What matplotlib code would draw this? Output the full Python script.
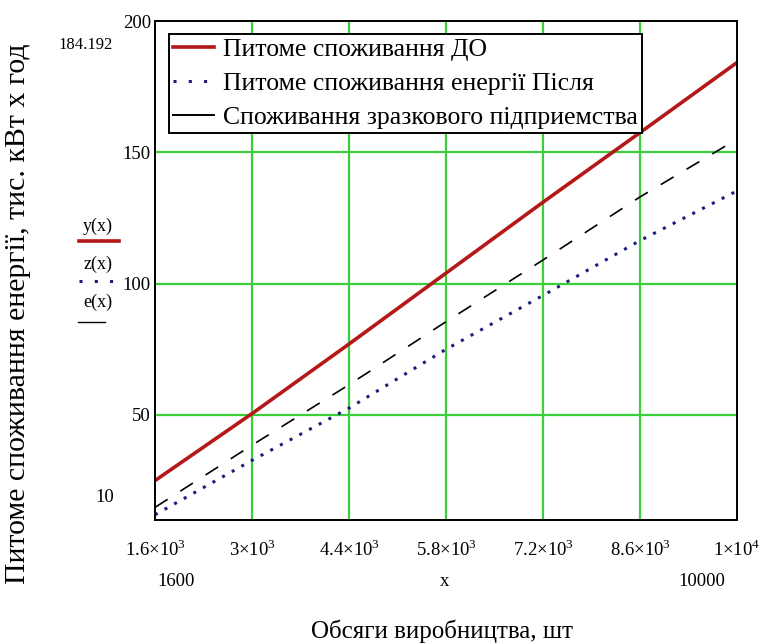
import matplotlib
matplotlib.use("Agg")
import matplotlib.pyplot as plt
from matplotlib.lines import Line2D

plt.rcParams['font.family'] = ['Liberation Serif', 'DejaVu Serif']
plt.rcParams['mathtext.fontset'] = 'custom'
plt.rcParams['mathtext.rm'] = 'Liberation Serif'

# Data
x_vals = [1600, 3000, 4400, 5800, 7200, 8600, 10000]
y_before = [25.0, 50.5, 77.0, 104.0, 131.0, 157.5, 184.192]
z_after = [12.0, 32.7, 52.6, 75.0, 95.5, 116.4, 135.3]
e_ref = [14.8, 38.5, 61.5, 85.5, 109.0, 133.0, 155.0]
x_ticks = [1600, 3000, 4400, 5800, 7200, 8600, 10000]
x_tick_labels = [r"1.6$\times$10$^{3}$", r"3$\times$10$^{3}$", r"4.4$\times$10$^{3}$",
                 r"5.8$\times$10$^{3}$", r"7.2$\times$10$^{3}$", r"8.6$\times$10$^{3}$",
                 r"1$\times$10$^{4}$"]
y_ticks = [50, 100, 150, 200]
y_tick_labels = ["50", "100", "150", "200"]
legend_labels = ["Питоме споживання ДО", "Питоме споживання енергії Після",
                 "Споживання зразкового підприемства"]

W, H = 763, 644
fig = plt.figure(figsize=(W / 100, H / 100), dpi=100)
L, R, T, B = 155, 737, 21, 520
ax = fig.add_axes([L / W, 1 - B / H, (R - L) / W, (B - T) / H])

red = "#b51818"
blue = "#1c1c7a"

ax.plot(x_vals, y_before, color=red, lw=2.6, solid_capstyle='butt')
ax.plot(x_vals, z_after, color=blue, lw=2.2, linestyle=(0, (1, 2.6)))
ax.plot(x_vals, e_ref, color="black", lw=1.2, linestyle=(0, (9, 9)))

ax.set_xlim(1600, 10000)
ax.set_ylim(10, 200)

grid_c = "#3ccf3c"
for gx in x_ticks[1:-1]:
    ax.axvline(gx, color=grid_c, lw=1.6, zorder=0)
for gy in y_ticks[:-1]:
    ax.axhline(gy, color=grid_c, lw=1.6, zorder=0)

ax.set_xticks(x_ticks)
ax.set_xticklabels(x_tick_labels, fontsize=13.5)
ax.set_yticks(y_ticks)
ax.set_yticklabels(y_tick_labels, fontsize=13.5)
ax.tick_params(axis='both', length=0)
ax.tick_params(axis='x', pad=14)
ax.tick_params(axis='y', pad=3)
for s in ax.spines.values():
    s.set_linewidth(1.4)

# lower limit label and marker value
fig.text(105 / W, 1 - 498 / H, "10", fontsize=13.5, ha='center', va='center')
fig.text(113 / W, 1 - 45 / H, "184.192", fontsize=12, ha='right', va='center')

# x limits and variable label
fig.text(176 / W, 1 - 582 / H, "1600", fontsize=13.5, ha='center', va='center')
fig.text(702 / W, 1 - 582 / H, "10000", fontsize=13.5, ha='center', va='center')
fig.text(445 / W, 1 - 582 / H, "x", fontsize=13.5, ha='center', va='center')
fig.text(442 / W, 1 - 631 / H, "Обсяги виробництва, шт", fontsize=18, ha='center', va='center')

fig.text(18 / W, 1 - 314 / H, "Питоме споживання енергії, тис. кВт х год",
         fontsize=21.5, ha='center', va='center', rotation=90)

# Mathcad-style function legend on the left
fig.text(98 / W, 1 - 226 / H, "y(x)", fontsize=13, ha='center', va='center')
fig.add_artist(Line2D([79 / W, 119 / W], [1 - 241 / H, 1 - 241 / H], color=red, lw=2.6))
fig.text(98 / W, 1 - 264 / H, "z(x)", fontsize=13, ha='center', va='center')
fig.add_artist(Line2D([79 / W, 116 / W], [1 - 281 / H, 1 - 281 / H], color=blue, lw=2.2,
                      linestyle=(0, (1, 4))))
fig.text(98 / W, 1 - 302 / H, "e(x)", fontsize=13, ha='center', va='center')
fig.add_artist(Line2D([78 / W, 105 / W], [1 - 322 / H, 1 - 322 / H], color="black", lw=1.0))

handles = [Line2D([], [], color=red, lw=2.6),
           Line2D([], [], color=blue, lw=2.2, linestyle=(0, (1, 4))),
           Line2D([], [], color="black", lw=1.4)]
leg = ax.legend(handles, legend_labels, loc='upper left',
                bbox_to_anchor=((169 - L) / (R - L), (B - 34) / (B - T)),
                borderaxespad=0, fancybox=False, edgecolor='black', fontsize=18.5,
                handlelength=1.6, handletextpad=0.36, borderpad=0.16, labelspacing=0.42,
                framealpha=1)
leg.get_frame().set_linewidth(1.4)

fig.savefig("out.png", dpi=100)
